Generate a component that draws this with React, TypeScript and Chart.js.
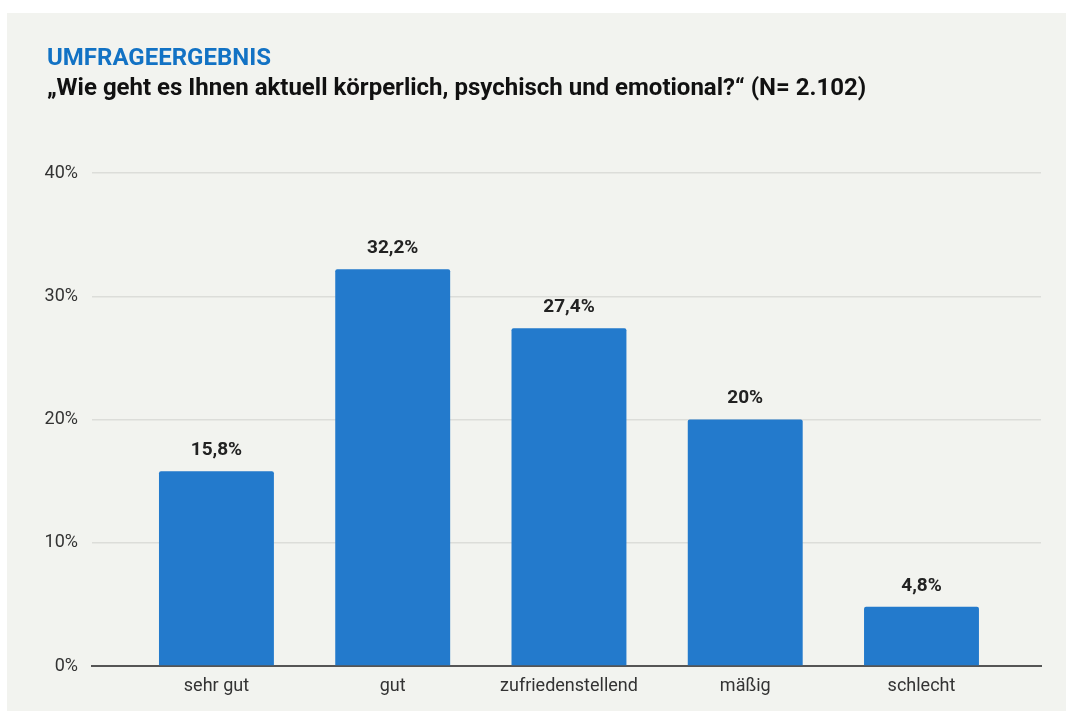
import React, { useEffect, useRef } from "react";
import { Chart, registerables } from "chart.js";

Chart.register(...registerables);

const TITLE = "UMFRAGEERGEBNIS";
const SUBTITLE = "„Wie geht es Ihnen aktuell körperlich, psychisch und emotional?“ (N= 2.102)";
const categories = ["sehr gut", "gut", "zufriedenstellend", "mäßig", "schlecht"];
const values = [15.8, 32.2, 27.4, 20, 4.8];
const valueLabels = ["15,8%", "32,2%", "27,4%", "20%", "4,8%"];
const yTicks = [0, 10, 20, 30, 40];

const BAR_COLOR = "#237acc";
const BG = "#f2f3ef";

const valueLabelPlugin = {
  id: "valueLabels",
  afterDatasetsDraw(chart: any) {
    const ctx = chart.ctx;
    const meta = chart.getDatasetMeta(0);
    ctx.save();
    ctx.font = "bold 19px Roboto";
    ctx.fillStyle = "#222";
    ctx.textAlign = "center";
    ctx.textBaseline = "middle";
    meta.data.forEach((bar: any, i: number) => {
      ctx.fillText(valueLabels[i], bar.x, bar.y - 21);
    });
    ctx.restore();
  },
};

export default function App() {
  const ref = useRef<HTMLCanvasElement>(null);
  useEffect(() => {
    if (!ref.current) return;
    const chart = new Chart(ref.current, {
      type: "bar",
      data: {
        datasets: [
          {
            data: values.map((v, i) => ({ x: i, y: v })),
            backgroundColor: BAR_COLOR,
            borderRadius: 2,
            borderSkipped: "bottom",
            categoryPercentage: 1,
            barPercentage: 0.652,
          },
        ],
      },
      options: {
        animation: false,
        responsive: false,
        layout: { padding: { left: 0, right: 25, top: 160, bottom: 0 } },
        plugins: { legend: { display: false }, tooltip: { enabled: false } },
        scales: {
          x: {
            type: "linear",
            offset: false,
            min: -0.706,
            max: 4.678,
            afterBuildTicks: (axis: any) => {
              axis.ticks = categories.map((_, i) => ({ value: i }));
            },
            afterFit: (scale: any) => {
              scale.height = 45;
            },
            grid: { display: false, drawTicks: false, offset: false },
            border: { display: true, color: "#555", width: 2 },
            ticks: {
              padding: 10,
              color: "#333",
              font: { family: "Roboto", size: 18 },
              autoSkip: false,
              maxRotation: 0,
              callback: (v: any) => categories[v as number] ?? "",
            },
          },
          y: {
            min: 0,
            max: 40,
            afterBuildTicks: (axis: any) => {
              axis.ticks = yTicks.map((v) => ({ value: v }));
            },
            afterFit: (scale: any) => {
              scale.width = 85;
            },
            grid: {
              color: (c: any) => (c.tick && c.tick.value === 0 ? "rgba(0,0,0,0)" : "#dcddd9"),
              lineWidth: 1.5,
              drawTicks: false,
            },
            border: { display: false },
            ticks: {
              padding: 14,
              color: "#333",
              font: { family: "Roboto", size: 18 },
              callback: (v: any) => v + "%",
            },
          },
        },
      },
      plugins: [valueLabelPlugin],
    } as any);
    return () => chart.destroy();
  }, []);

  return (
    <div
      style={{
        position: "absolute",
        left: 7,
        top: 13,
        width: 1059,
        height: 698,
        background: BG,
        fontFamily: "Roboto, sans-serif",
        overflow: "hidden",
      }}
    >
      <canvas ref={ref} width={1059} height={698} style={{ position: "absolute", left: 0, top: 0 }} />
      <div style={{ position: "absolute", left: 40, top: 29, fontWeight: 700 }}>
        <div style={{ fontSize: 24, lineHeight: "30px", color: "#1272c4" }}>{TITLE}</div>
        <div style={{ fontSize: 24, lineHeight: "30px", color: "#111" }}>{SUBTITLE}</div>
      </div>
    </div>
  );
}
